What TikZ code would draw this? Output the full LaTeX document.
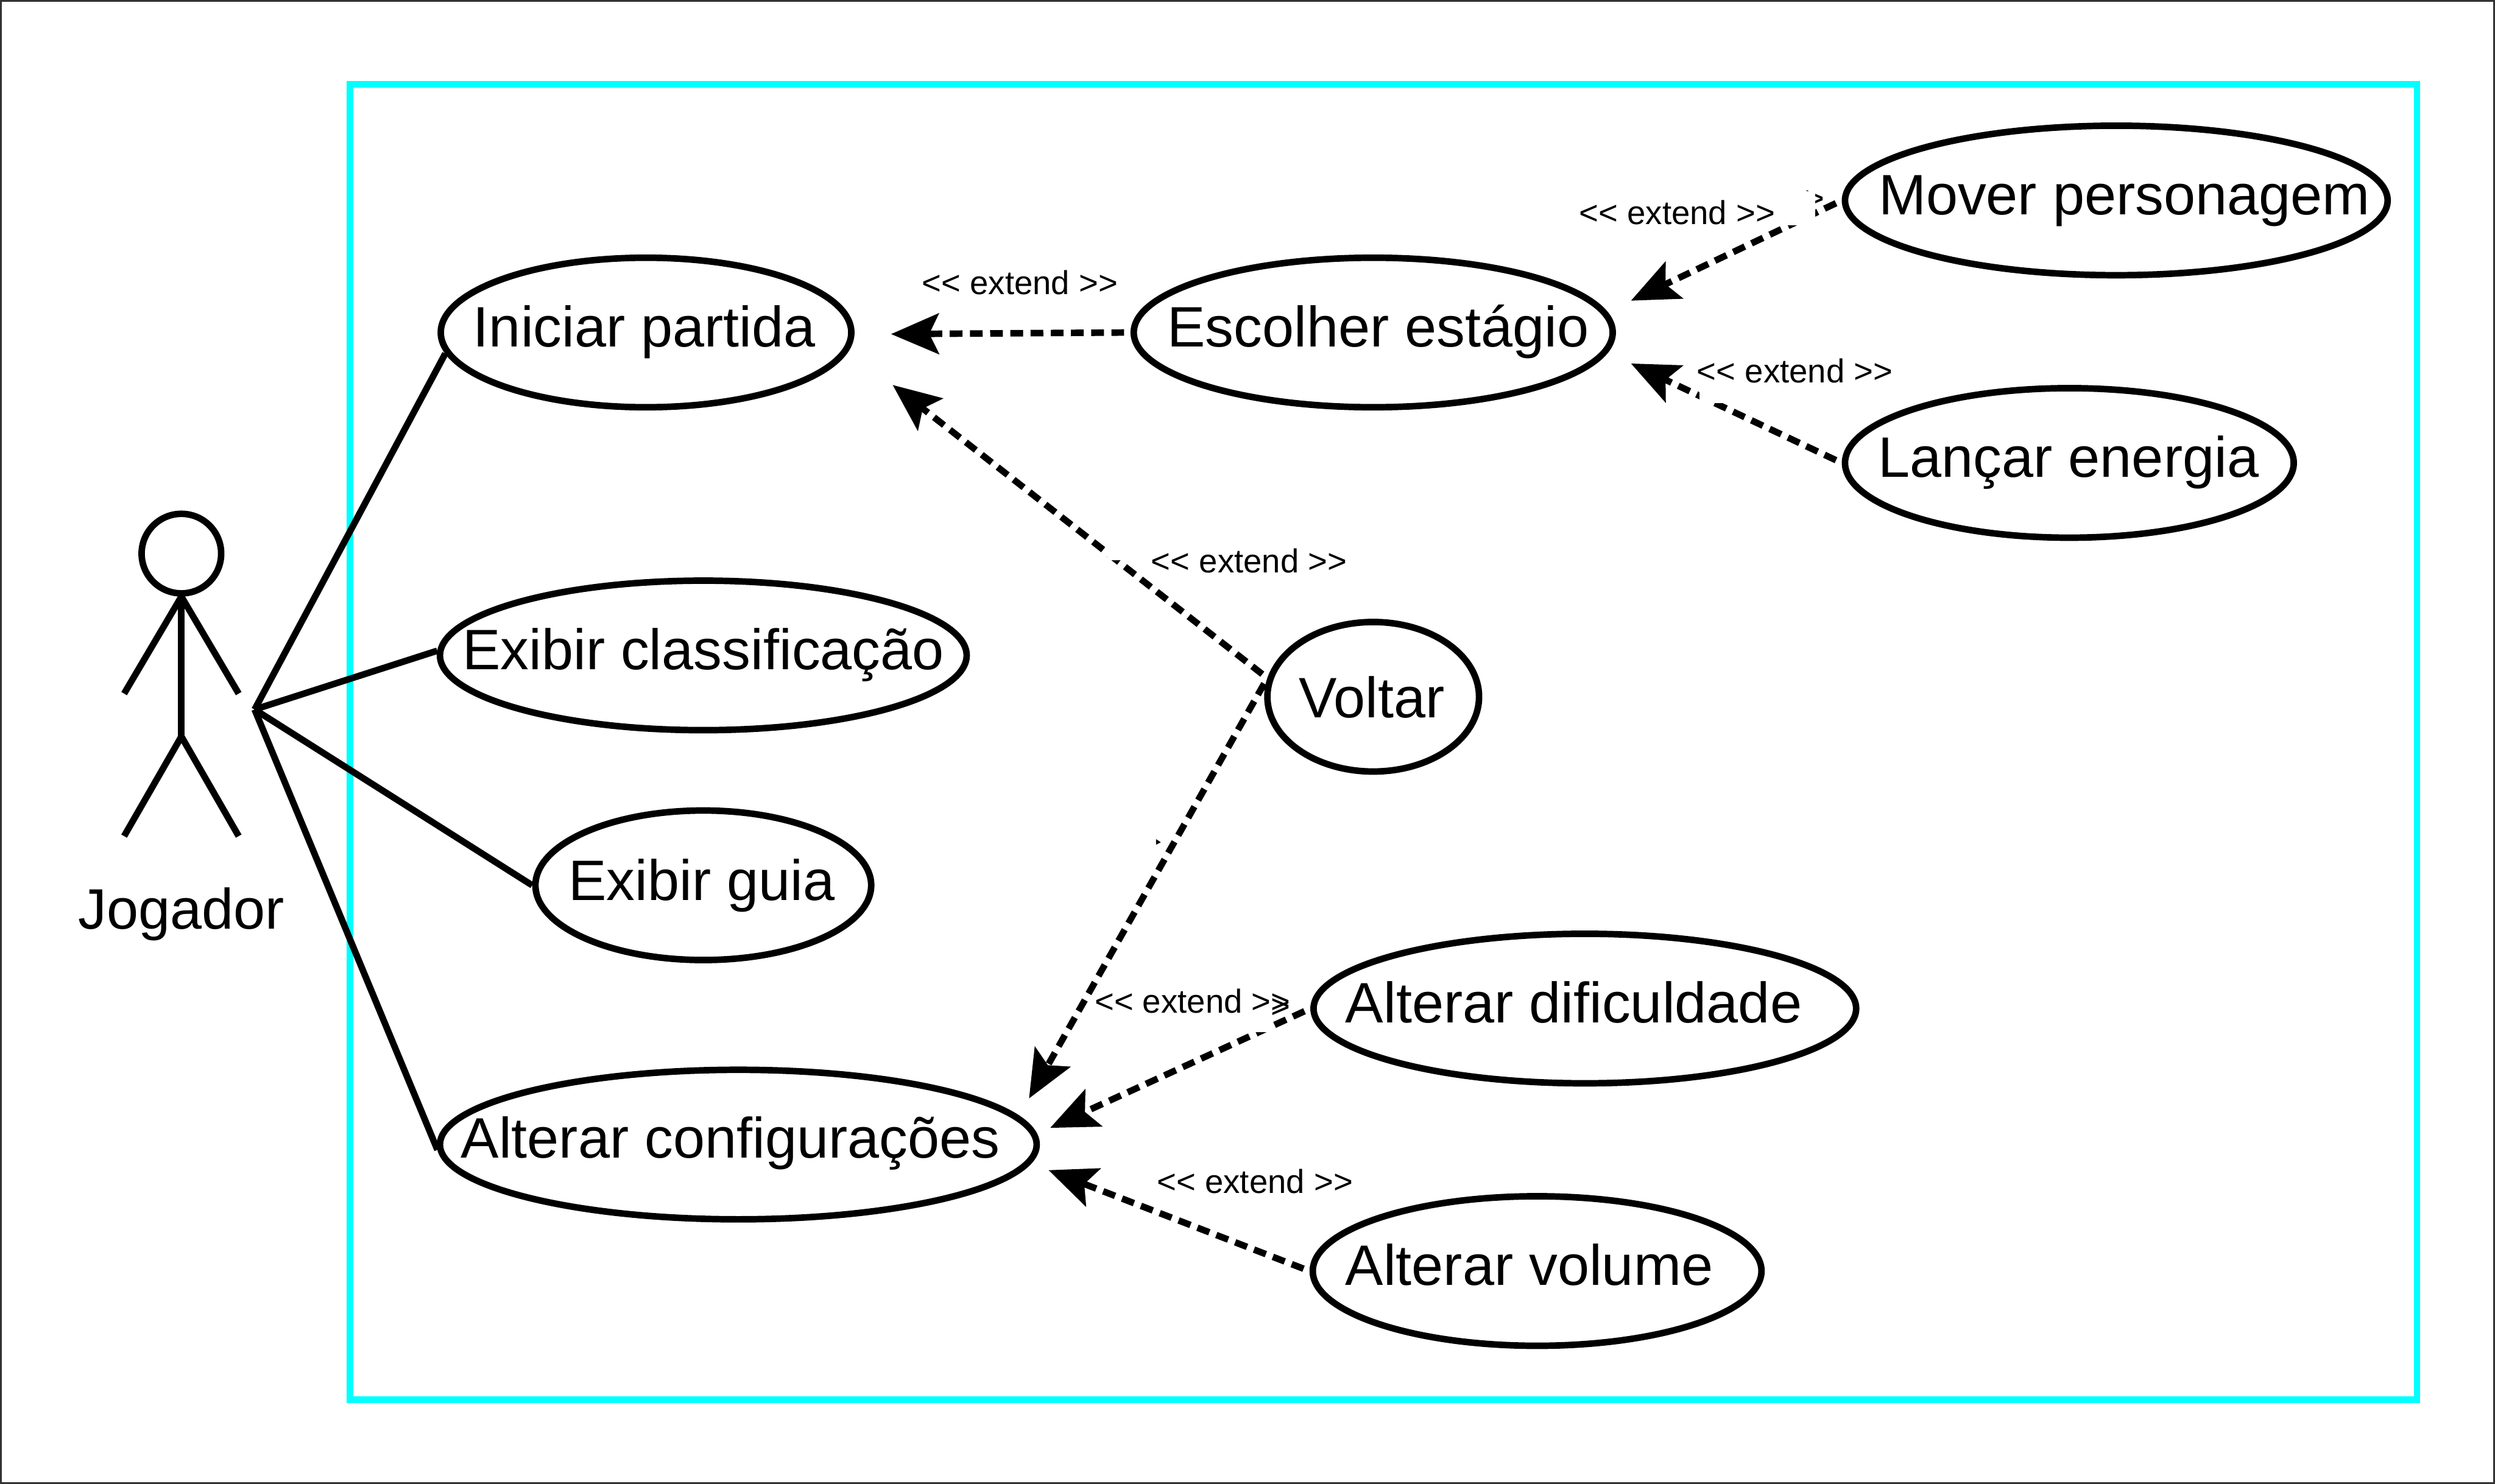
\documentclass[tikz,border=0pt]{standalone}
\usepackage{fontspec}
\setmainfont{Liberation Sans}
\usetikzlibrary{arrows.meta,shapes.geometric}
\definecolor{boundary}{HTML}{00FFFF}
\tikzset{
    usecase/.style={draw,ellipse,line width=0.041cm,inner sep=0pt,minimum height=0.94cm},
    casetext/.style={anchor=base,inner sep=0pt,font=\fontsize{10.2pt}{12pt}\selectfont},
    extendlabel/.style={anchor=base,inner sep=0pt,font=\fontsize{5.94pt}{7pt}\selectfont},
    assoc/.style={line width=0.041cm},
    extendarrow/.style={line width=0.041cm,dash pattern=on 0.08cm off 0.047cm,shorten <=0.04cm,-{Stealth[length=0.3cm,width=0.255cm,inset=0.06cm]}},
}
\begin{document}
\begin{tikzpicture}[x=1cm,y=-1cm]
    \useasboundingbox (0,0) rectangle (15.68,9.328);
    \draw[line width=0.012cm,black!80] (0.006,0.006) rectangle (15.674,9.322);
    \draw[line width=0.041cm,boundary] (2.198,0.53) rectangle (15.19,8.8);
    \foreach \name/\x/\y/\w/\tx/\ty/\txt in {
        iniciar/4.06/2.09/2.58/4.05/2.18/Iniciar partida,
        classif/4.42/4.12/3.31/4.42/4.21/Exibir classificação,
        guia/4.42/5.565/2.11/4.41/5.66/Exibir guia,
        config/4.64/7.195/3.75/4.59/7.28/Alterar configurações,
        escolher/8.63/2.09/3.01/8.66/2.18/Escolher estágio,
        mover/13.30/1.26/3.41/13.35/1.35/Mover personagem,
        lancar/13.005/2.91/2.82/13.00/3.00/Lançar energia,
        voltar/8.63/4.38/1.33/8.62/4.51/Voltar,
        dificuldade/9.96/6.34/3.41/9.89/6.43/Alterar dificuldade,
        volume/9.66/7.99/2.82/9.61/8.08/Alterar volume} {
        \node[usecase,minimum width=\w cm] (\name) at (\x,\y) {};
        \node[casetext] (\name-text) at (\tx,\ty) {\txt};
    }
    \node[draw,circle,line width=0.041cm,inner sep=0pt,minimum size=0.5cm] (head) at (1.14,3.48) {};
    \coordinate (hip) at (1.14,4.63);
    \coordinate (handL) at (0.78,4.36);
    \coordinate (handR) at (1.50,4.36);
    \coordinate (footL) at (0.78,5.256);
    \coordinate (footR) at (1.50,5.256);
    \draw[assoc] (handL) -- (head.south) -- (handR);
    \draw[assoc] (head.south) -- (hip);
    \draw[assoc] (footL) -- (hip) -- (footR);
    \node[casetext] (jogador) at (1.14,5.84) {Jogador};
    \coordinate (hub) at (1.60,4.46);
    \draw[assoc] (hub) -- (iniciar.186);
    \draw[assoc] (hub) -- (classif.179);
    \draw[assoc] (hub) -- (guia.west);
    \draw[assoc] (hub) -- (config.181);
    \coordinate (tipA) at (5.60,2.10);
    \coordinate (tipB) at (5.61,2.42);
    \coordinate (tipC) at (10.25,1.89);
    \coordinate (tipD) at (10.25,2.285);
    \coordinate (tipE) at (6.467,6.905);
    \coordinate (tipF) at (6.60,7.09);
    \coordinate (tipG) at (6.59,7.356);
    \draw[extendarrow] (escolher.west) -- (tipA);
    \draw[extendarrow] (voltar.170) -- (tipB);
    \draw[extendarrow] (mover.west) -- (tipC);
    \draw[extendarrow] (lancar.west) -- (tipD);
    \draw[extendarrow] (voltar.170) -- (tipE);
    \draw[extendarrow] (dificuldade.west) -- (tipF);
    \draw[extendarrow] (volume.west) -- (tipG);
    \node[extendlabel,anchor=base east] (strayA) at (11.475,1.32) {>};
    \foreach \xa/\ya/\xb/\yb in {10.97/1.20/11.407/1.416,10.68/2.35/11.30/2.535,6.96/3.40/7.25/3.52,7.70/6.32/7.99/6.49} {
        \fill[white] (\xa,\ya) rectangle (\xb,\yb);
    }
    \fill (7.265,5.275) -- (7.295,5.295) -- (7.265,5.31) -- cycle;
    \foreach \i/\x/\y in {a/6.41/1.85,b/10.54/1.41,c/11.28/2.406,d/7.85/3.60,e/7.495/6.367,f/7.887/7.50} {
        \node[extendlabel] (label-\i) at (\x,\y) {<{}< extend >{}>};
    }
    \node[extendlabel] (strayB) at (8.05,6.40) {>};
\end{tikzpicture}
\end{document}
